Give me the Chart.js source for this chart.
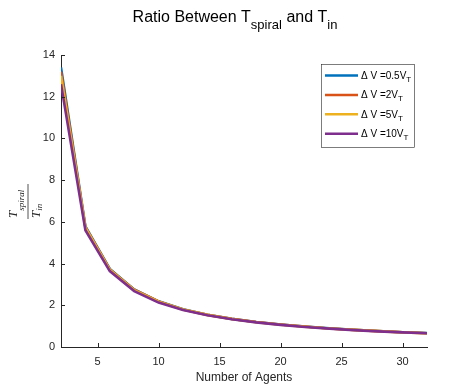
<!DOCTYPE html>
<html>
<head>
<meta charset="utf-8">
<script src="https://cdn.jsdelivr.net/npm/chart.js@4.4.0/dist/chart.umd.min.js"></script>
<style>
  html, body { margin: 0; padding: 0; background: #fff; }
  #wrap { width: 471px; height: 388px; }
</style>
</head>
<body>
<div id="wrap"><canvas id="ratioChart" width="471" height="388"></canvas></div>
<script>
// Number of agents (x) and T_spiral / T_in for each delta V
const agents = [2, 4, 6, 8, 10, 12, 14, 16, 18, 20, 22, 24, 26, 28, 30, 32];
const ratio05 = [13.4, 5.78, 3.74, 2.76, 2.19, 1.81, 1.55, 1.35, 1.20, 1.08, 0.98, 0.90, 0.83, 0.77, 0.71, 0.67];
const ratio2 = [13.2, 5.75, 3.72, 2.75, 2.18, 1.80, 1.54, 1.35, 1.20, 1.08, 0.98, 0.89, 0.82, 0.76, 0.71, 0.66];
const ratio5 = [13.0, 5.72, 3.70, 2.73, 2.17, 1.80, 1.54, 1.34, 1.19, 1.07, 0.97, 0.89, 0.82, 0.76, 0.70, 0.66];
const ratio10 = [12.6, 5.60, 3.64, 2.68, 2.13, 1.77, 1.52, 1.33, 1.18, 1.06, 0.96, 0.88, 0.81, 0.75, 0.70, 0.66];
const seriesNames = ['0.5', '2', '5', '10'];
const xTicks = [5, 10, 15, 20, 25, 30];
const yTicks = [0, 2, 4, 6, 8, 10, 12, 14];

const colors = ['#0072BD', '#D95319', '#EDB120', '#7E2F8E'];
const axisColor = '#262626';
const sans = "'Liberation Sans', Helvetica, Arial, sans-serif";
const serif = "'Liberation Serif', 'DejaVu Serif', serif";

function pts(vals) {
  return agents.map((a, i) => ({ x: a, y: vals[i] }));
}

// draw text made of normal and subscript pieces
function drawRich(ctx, parts, x, y, size, subSize, subDy, align, family) {
  family = family || sans;
  let w = 0;
  parts.forEach(p => {
    ctx.font = (p.italic ? 'italic ' : '') + (p.sub ? subSize : size) + 'px ' + family;
    p.w = ctx.measureText(p.t).width;
    w += p.w;
  });
  let cx = align === 'center' ? x - w / 2 : x;
  ctx.textAlign = 'left';
  ctx.textBaseline = 'alphabetic';
  parts.forEach(p => {
    ctx.font = (p.italic ? 'italic ' : '') + (p.sub ? subSize : size) + 'px ' + family;
    ctx.fillText(p.t, cx, p.sub ? y + subDy : y);
    cx += p.w;
  });
  return w;
}

const matlabDecor = {
  id: 'matlabDecor',
  afterDraw(chart) {
    const ctx = chart.ctx;
    const { left, bottom } = chart.chartArea;
    const xs = chart.scales.x, ys = chart.scales.y;
    ctx.save();

    // inward tick marks
    ctx.strokeStyle = axisColor;
    ctx.lineWidth = 1;
    ctx.beginPath();
    xTicks.forEach(v => {
      const px = Math.round(xs.getPixelForValue(v)) + 0.5;
      ctx.moveTo(px, bottom); ctx.lineTo(px, bottom - 4);
    });
    yTicks.forEach(v => {
      const py = Math.round(ys.getPixelForValue(v)) + 0.5;
      ctx.moveTo(left, py); ctx.lineTo(left + 4, py);
    });
    ctx.stroke();

    // title
    ctx.fillStyle = '#000';
    drawRich(ctx, [
      { t: 'Ratio Between T' }, { t: 'spiral', sub: true },
      { t: ' and T' }, { t: 'in', sub: true }
    ], 235, 22, 16, 13, 7, 'center');

    // y axis label as a fraction
    ctx.save();
    ctx.translate(28, 201);
    ctx.rotate(-Math.PI / 2);
    ctx.fillStyle = axisColor;
    drawRich(ctx, [{ t: 'T', italic: true }, { t: 'spiral', sub: true, italic: true }],
      -17, -11, 13, 9, 7, 'left', serif);
    drawRich(ctx, [{ t: 'T', italic: true }, { t: 'in', sub: true, italic: true }],
      -17, 12, 13, 9, 2, 'left', serif);
    ctx.strokeStyle = axisColor;
    ctx.lineWidth = 0.8;
    ctx.beginPath();
    ctx.moveTo(-18, 0); ctx.lineTo(17, 0);
    ctx.stroke();
    ctx.restore();

    // legend
    const bx = 321.5, by = 64.5, bw = 93, bh = 83;
    ctx.fillStyle = '#fff';
    ctx.fillRect(bx, by, bw, bh);
    ctx.strokeStyle = '#262626';
    ctx.lineWidth = 0.6;
    ctx.strokeRect(bx, by, bw, bh);
    chart.data.datasets.forEach((ds, i) => {
      const ly = 75.5 + i * 19.4;
      ctx.strokeStyle = ds.borderColor;
      ctx.lineWidth = 2.5;
      ctx.beginPath();
      ctx.moveTo(325, ly); ctx.lineTo(358, ly);
      ctx.stroke();
      ctx.fillStyle = '#000';
      drawRich(ctx, [{ t: '\u0394 V =' + seriesNames[i] + 'V' }, { t: 'T', sub: true }],
        361, ly + 3.5, 10, 8, 3, 'left');
    });

    ctx.restore();
  }
};

const ctx = document.getElementById('ratioChart').getContext('2d');
new Chart(ctx, {
  type: 'line',
  data: {
    datasets: [ratio05, ratio2, ratio5, ratio10].map((vals, i) => ({
      label: '\u0394 V =' + seriesNames[i] + 'V_T',
      data: pts(vals),
      borderColor: colors[i],
      backgroundColor: colors[i],
      borderWidth: 2.6,
      pointRadius: 0,
      tension: 0,
      order: 3 - i
    }))
  },
  plugins: [matlabDecor],
  options: {
    responsive: false,
    animation: false,
    layout: { padding: { left: 0, right: 44, top: 55, bottom: 0 } },
    plugins: {
      legend: { display: false },
      title: { display: false },
      tooltip: { enabled: false }
    },
    scales: {
      x: {
        type: 'linear',
        min: 2,
        max: 32,
        afterBuildTicks: s => { s.ticks = xTicks.map(v => ({ value: v })); },
        afterFit: s => { s.height = 41; },
        grid: { display: false, drawTicks: false },
        border: { display: true, color: axisColor, width: 1 },
        ticks: { color: axisColor, font: { family: sans, size: 11 }, padding: 8, maxRotation: 0 },
        title: { display: true, text: 'Number of Agents', color: axisColor, font: { family: sans, size: 12 }, padding: { top: 2, bottom: 3 } }
      },
      y: {
        min: 0,
        max: 14,
        afterBuildTicks: s => { s.ticks = yTicks.map(v => ({ value: v })); },
        afterFit: s => { s.width = 61; },
        grid: { display: false, drawTicks: false },
        border: { display: true, color: axisColor, width: 1 },
        ticks: { color: axisColor, font: { family: sans, size: 11 }, padding: 6 }
      }
    }
  }
});
</script>
</body>
</html>
